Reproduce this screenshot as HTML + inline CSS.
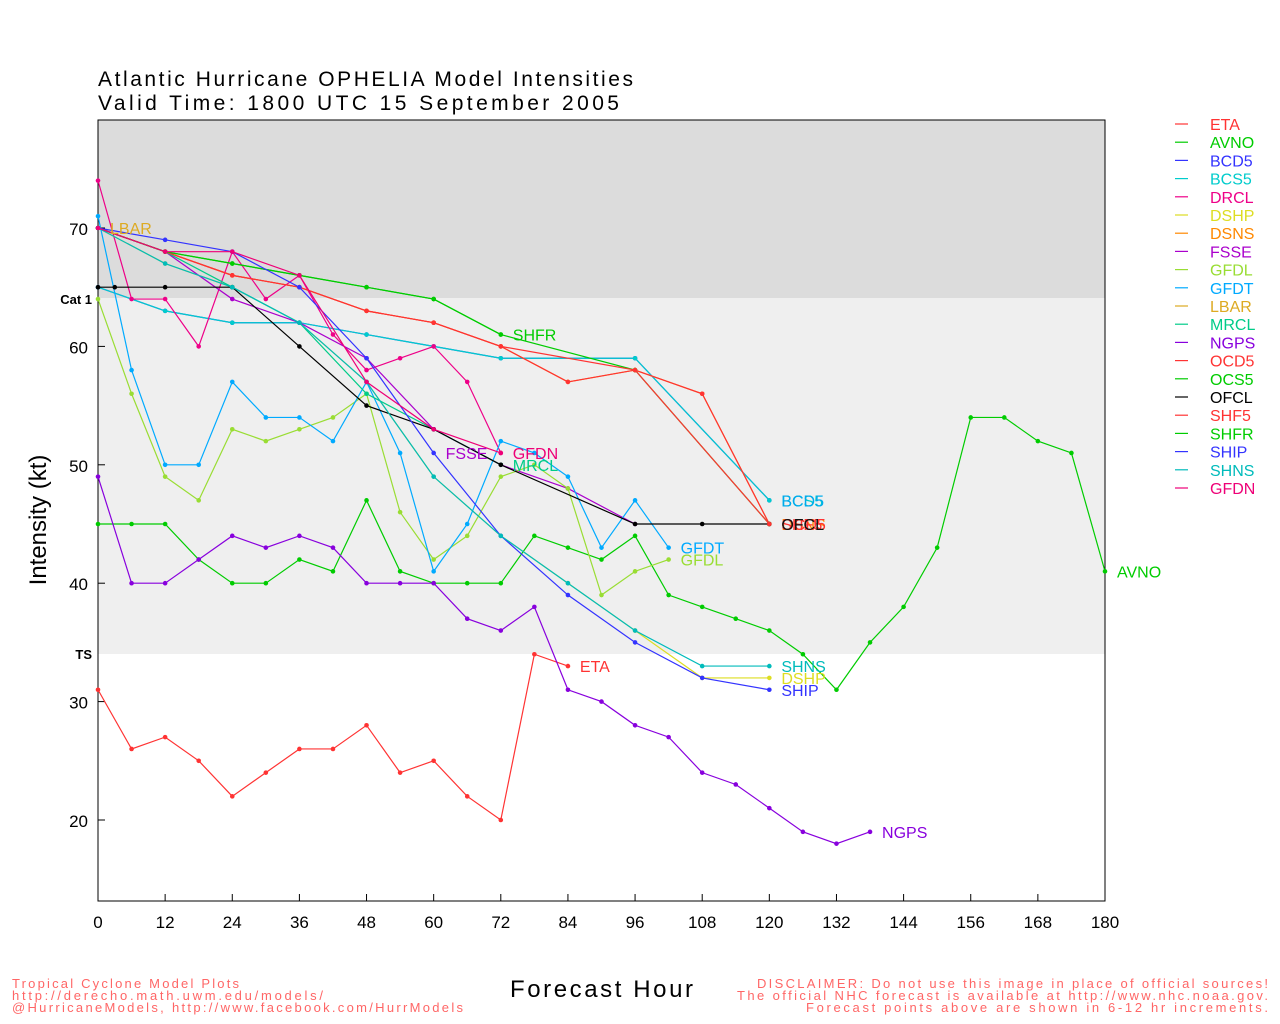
<!DOCTYPE html>
<html><head><meta charset="utf-8"><style>
html,body{margin:0;padding:0;background:#fff;}
svg{display:block;font-family:"Liberation Sans",sans-serif;}
</style></head><body>
<svg id="s" width="1280" height="1024" xmlns="http://www.w3.org/2000/svg">
<rect x="0" y="0" width="1280" height="1024" fill="#fff"/>
<rect x="98" y="120" width="1007" height="178" fill="#dcdcdc"/>
<rect x="98" y="298" width="1007" height="356" fill="#efefef"/>
<rect x="98" y="120" width="1007" height="781" fill="none" stroke="#000" stroke-width="1"/>
<text x="98" y="86" font-size="21" textLength="535" lengthAdjust="spacing">Atlantic Hurricane OPHELIA Model Intensities</text>
<text x="98" y="110" font-size="21" textLength="521" lengthAdjust="spacing">Valid Time: 1800 UTC 15 September 2005</text>
<text x="92" y="304" font-size="13" font-weight="bold" text-anchor="end">Cat 1</text>
<text x="92" y="659" font-size="13" font-weight="bold" text-anchor="end">TS</text>
<text x="46" y="520" font-size="24" text-anchor="middle" transform="rotate(-90 46 520)">Intensity (kt)</text>
<text x="510" y="997" font-size="24" textLength="183" lengthAdjust="spacing">Forecast Hour</text>
<g font-size="13" fill="#ff6666">
<text x="12" y="988" textLength="227" lengthAdjust="spacing">Tropical Cyclone Model Plots</text>
<text x="12" y="1000" textLength="311" lengthAdjust="spacing">http://derecho.math.uwm.edu/models/</text>
<text x="12" y="1012" textLength="451" lengthAdjust="spacing">@HurricaneModels, http://www.facebook.com/HurrModels</text>
<text x="757" y="988" textLength="511" lengthAdjust="spacing">DISCLAIMER: Do not use this image in place of official sources!</text>
<text x="737" y="1000" textLength="531" lengthAdjust="spacing">The official NHC forecast is available at http://www.nhc.noaa.gov.</text>
<text x="806" y="1012" textLength="462" lengthAdjust="spacing">Forecast points above are shown in 6-12 hr increments.</text>
</g>
<g id="ax"></g>
<g id="ser"></g>
<g id="leg"></g>
</svg>
<script>
var NS="http://www.w3.org/2000/svg";
function X(h){return 98+h*1007/180;}
function Y(v){return 228+(70-v)*11.84;}
function el(t,a,p,txt){var e=document.createElementNS(NS,t);for(var k in a)e.setAttribute(k,a[k]);if(txt!=null)e.textContent=txt;document.getElementById(p).appendChild(e);return e;}
for(var h=0;h<=180;h+=12){el("line",{x1:X(h),x2:X(h),y1:901,y2:894,stroke:"#000"},"ax");el("text",{x:X(h),y:928,"font-size":17,"text-anchor":"middle"},"ax",""+h);}
for(var v=20;v<=70;v+=10){el("line",{x1:98,x2:105,y1:Y(v),y2:Y(v),stroke:"#000"},"ax");el("text",{x:88,y:Y(v)+7,"font-size":17,"text-anchor":"end"},"ax",""+v);}
var S=[
["ETA","#ff3333",[[0,31],[6,26],[12,27],[18,25],[24,22],[30,24],[36,26],[42,26],[48,28],[54,24],[60,25],[66,22],[72,20],[78,34],[84,33]]],
["AVNO","#00cc00",[[0,45],[6,45],[12,45],[18,42],[24,40],[30,40],[36,42],[42,41],[48,47],[54,41],[60,40],[66,40],[72,40],[78,44],[84,43],[90,42],[96,44],[102,39],[108,38],[114,37],[120,36],[126,34],[132,31],[138,35],[144,38],[150,43],[156,54],[162,54],[168,52],[174,51],[180,41]]],
["BCD5","#3333ff",[[0,65],[12,63],[24,62],[36,62],[48,61],[60,60],[72,59],[96,59],[120,47]]],
["BCS5","#00cccc",[[0,65],[12,63],[24,62],[36,62],[48,61],[60,60],[72,59],[96,59],[120,47]]],
["DRCL","#ee0088",[[0,74],[6,64],[12,64],[18,60],[24,68],[30,64],[36,66],[42,61],[48,58],[54,59],[60,60],[66,57],[72,51]]],
["DSHP","#dddd22",[[0,70],[12,67],[24,65],[36,62],[48,57],[60,49],[72,44],[84,40],[96,36],[108,32],[120,32]]],
["DSNS","#ff8800",[[0,70],[12,68],[24,66],[36,65],[48,63],[60,62],[72,60],[84,57],[96,58],[108,56],[120,45]]],
["FSSE","#aa00cc",[[0,70],[12,68],[24,64],[36,62],[48,59],[60,53],[72,50],[84,48],[96,45]]],
["GFDL","#99dd33",[[0,64],[6,56],[12,49],[18,47],[24,53],[30,52],[36,53],[42,54],[48,56],[54,46],[60,42],[66,44],[72,49],[78,50],[84,48],[90,39],[96,41],[102,42]]],
["GFDT","#00aaff",[[0,71],[6,58],[12,50],[18,50],[24,57],[30,54],[36,54],[42,52],[48,57],[54,51],[60,41],[66,45],[72,52],[78,51],[84,49],[90,43],[96,47],[102,43]]],
["LBAR","#ddaa22",[[0,70]]],
["MRCL","#00cc88",[[0,70],[12,68],[24,65],[36,62],[48,56],[60,53],[72,50]]],
["NGPS","#8800dd",[[0,49],[6,40],[12,40],[18,42],[24,44],[30,43],[36,44],[42,43],[48,40],[54,40],[60,40],[66,37],[72,36],[78,38],[84,31],[90,30],[96,28],[102,27],[108,24],[114,23],[120,21],[126,19],[132,18],[138,19]]],
["OCD5","#ff3333",[[0,70],[12,68],[24,66],[36,65],[48,63],[60,62],[72,60],[84,57],[96,58],[108,56],[120,45]]],
["OCS5","#00cc00",[[0,70],[12,68],[24,67],[36,66],[48,65],[60,64],[72,61],[96,58],[120,45]]],
["OFCL","#000000",[[0,65],[3,65],[12,65],[24,65],[36,60],[48,55],[60,53],[72,50],[96,45],[108,45],[120,45]]],
["SHF5","#ff3333",[[0,70],[12,68],[24,66],[36,65],[48,63],[60,62],[72,60],[96,58],[120,45]]],
["SHFR","#00cc00",[[0,70],[12,68],[24,67],[36,66],[48,65],[60,64],[72,61]]],
["SHIP","#3333ff",[[0,70],[12,69],[24,68],[36,65],[48,59],[60,51],[72,44],[84,39],[96,35],[108,32],[120,31]]],
["SHNS","#00bbbb",[[0,70],[12,67],[24,65],[36,62],[48,57],[60,49],[72,44],[84,40],[96,36],[108,33],[120,33]]],
["GFDN","#ee0077",[[0,70],[12,68],[24,68],[36,66],[48,57],[60,53],[72,51]]]
];
S.forEach(function(s,i){
 var pts=s[2].map(function(p){return X(p[0])+","+Y(p[1]);}).join(" ");
 el("polyline",{points:pts,fill:"none",stroke:s[1],"stroke-width":1.2},"ser");
 s[2].forEach(function(p){el("circle",{cx:X(p[0]),cy:Y(p[1]),r:2.3,fill:s[1]},"ser");});
 var ly=124+i*18.2;
 el("line",{x1:1175,x2:1188,y1:ly,y2:ly,stroke:s[1],"stroke-width":1.2},"leg");
 el("text",{x:1210,y:ly+6,"font-size":16,fill:s[1]},"leg",s[0]);
});
var L=[["ETA","#ff3333",84,33],["AVNO","#00cc00",180,41],["BCS5","#00cccc",120,47],["BCD5","#00aaee",120,47],["DSNS","#ff8800",120,45],["SHF5","#ff3333",120,45],["OCD5","#ff3333",120,45],["OFCL","#111",120,45],["SHNS","#00bbbb",120,33],["DSHP","#dddd22",120,32],["SHIP","#3333ff",120,31],["GFDT","#00aaff",102,43],["GFDL","#99dd33",102,42],["NGPS","#8800dd",138,19],["SHFR","#00cc00",72,61],["FSSE","#aa00cc",60,51],["GFDN","#ee0077",72,51],["MRCL","#00cc88",72,50],["LBAR","#ddaa22",0,70]];
L.forEach(function(l){el("text",{x:X(l[2])+12,y:Y(l[3])+6,"font-size":16,fill:l[1]},"ser",l[0]);});
</script>
</body></html>
